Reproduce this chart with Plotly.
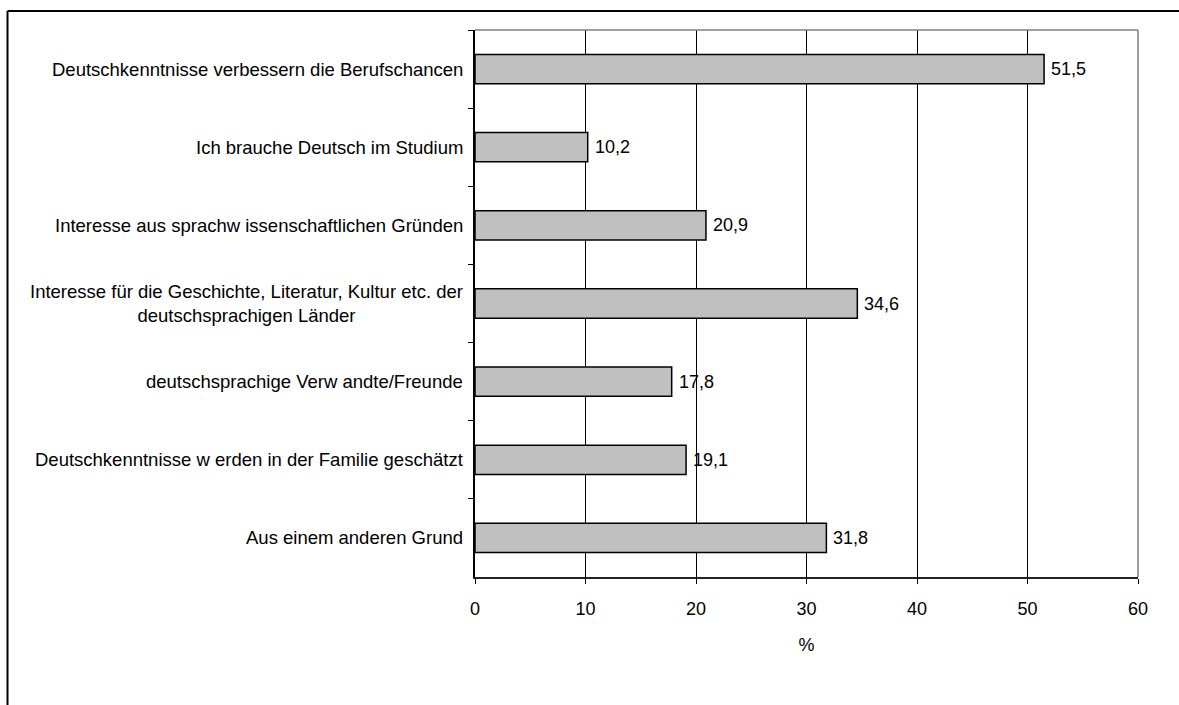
import plotly.graph_objects as go

# Reasons for learning German (% of respondents)
categories = [
    "Deutschkenntnisse verbessern die Berufschancen",
    "Ich brauche Deutsch im Studium",
    "Interesse aus sprachw issenschaftlichen Gründen",
    "Interesse für die Geschichte, Literatur, Kultur etc. der<br>deutschsprachigen Länder",
    "deutschsprachige Verw andte/Freunde",
    "Deutschkenntnisse w erden in der Familie geschätzt",
    "Aus einem anderen Grund",
]
values = [51.5, 10.2, 20.9, 34.6, 17.8, 19.1, 31.8]
x_ticks = [0, 10, 20, 30, 40, 50, 60]

FONT = "Liberation Sans, Arial, sans-serif"
FS_CAT = 18.5
FS = 18

fig = go.Figure()
fig.add_trace(go.Bar(
    y=categories,
    x=values,
    orientation="h",
    width=0.375,
    marker=dict(color="#C0C0C0", line=dict(color="#000000", width=1.5)),
    hoverinfo="skip",
))

# Category labels (centred multi-line text, right-aligned against the axis)
for cat in categories:
    fig.add_annotation(
        x=0, xref="paper", y=cat, yref="y",
        text=cat, showarrow=False,
        xanchor="right", yanchor="middle", align="center",
        xshift=-10,
        font=dict(family=FONT, size=FS_CAT, color="#000000"),
    )

# Value labels next to bar ends
for cat, v in zip(categories, values):
    fig.add_annotation(
        x=v, xref="x", y=cat, yref="y",
        text=f"{v:.1f}".replace(".", ","), showarrow=False,
        xanchor="left", yanchor="middle", xshift=5,
        font=dict(family=FONT, size=FS, color="#000000"),
    )

# Grey frame on top and right of the plot area
fig.add_shape(type="line", xref="paper", yref="paper", x0=0, x1=1, y0=1, y1=1,
              line=dict(color="#808080", width=1.5))
fig.add_shape(type="line", xref="paper", yref="paper", x0=1, x1=1, y0=0, y1=1,
              line=dict(color="#808080", width=1.5))

# Outer chart border: left and top edges (the others run off the page)
L, R, T, B = 475, 41, 30, 128
W, H = 1179, 705
pw, ph = W - L - R, H - T - B
bx = (7.5 - L) / pw
by = 1 + (T - 11) / ph
fig.add_shape(type="line", xref="paper", yref="paper",
              x0=bx, x1=bx, y0=by, y1=-(H + 40 - T - ph) / ph,
              line=dict(color="#000000", width=2))
fig.add_shape(type="line", xref="paper", yref="paper",
              x0=bx, x1=(W + 40 - L) / pw, y0=by, y1=by,
              line=dict(color="#000000", width=2))

fig.update_layout(
    width=W, height=H,
    margin=dict(l=L, r=R, t=T, b=B),
    paper_bgcolor="#FFFFFF",
    plot_bgcolor="#FFFFFF",
    showlegend=False,
    separators=",.",
    font=dict(family=FONT, size=FS, color="#000000"),
    xaxis=dict(
        range=[0, 60],
        tickvals=x_ticks,
        ticks="outside", ticklen=5, tickcolor="#000000", tickwidth=1,
        showgrid=True, gridcolor="#000000", gridwidth=1,
        showline=True, linecolor="#222222", linewidth=2,
        zeroline=False,
        tickfont=dict(family=FONT, size=FS),
        ticklabelstandoff=9,
        title=dict(text="%", font=dict(family=FONT, size=FS), standoff=21),
    ),
    yaxis=dict(
        categoryorder="array", categoryarray=categories,
        autorange="reversed",
        showticklabels=False,
        ticks="outside", ticklen=5, tickcolor="#000000", tickwidth=1,
        tickson="boundaries",
        showgrid=False,
        showline=True, linecolor="#000000", linewidth=1.5,
        zeroline=False,
    ),
)

fig.write_html("out.html")
